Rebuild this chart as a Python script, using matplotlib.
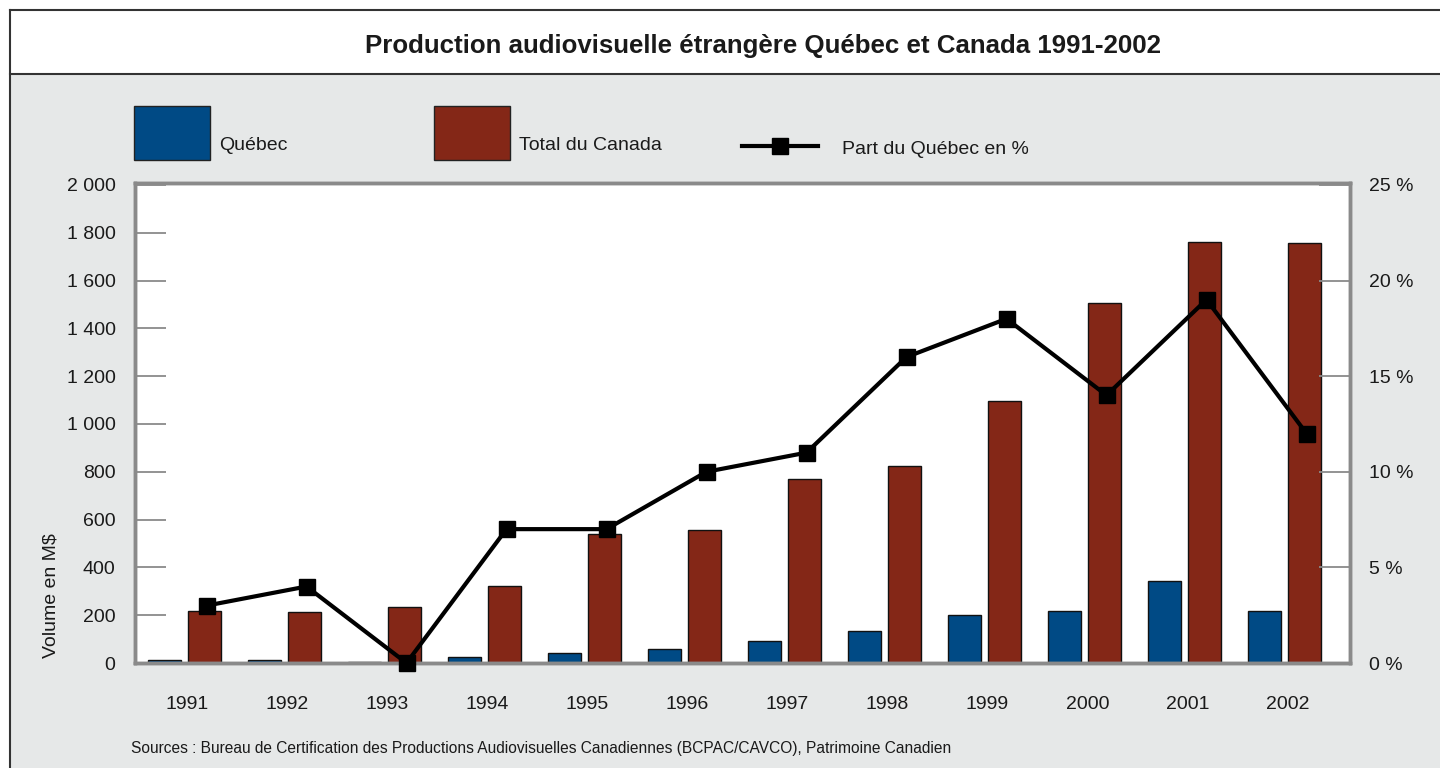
import matplotlib
matplotlib.use('Agg')
import matplotlib.pyplot as plt
from matplotlib.patches import Rectangle
from matplotlib.lines import Line2D
import numpy as np

# ---- data ----
years = ['1991', '1992', '1993', '1994', '1995', '1996', '1997', '1998', '1999', '2000', '2001', '2002']
quebec = [11, 14, 3, 26, 40, 59, 92, 134, 201, 217, 342, 218]
canada = [219, 213, 235, 321, 540, 556, 770, 824, 1096, 1506, 1761, 1757]
part_quebec = [3, 4, 0, 7, 7, 10, 11, 16, 18, 14, 19, 12]
left_ticks = [0, 200, 400, 600, 800, 1000, 1200, 1400, 1600, 1800, 2000]
left_labels = ['0', '200', '400', '600', '800', '1 000', '1 200', '1 400', '1 600', '1 800', '2 000']
right_ticks = [0, 5, 10, 15, 20, 25]
right_labels = ['0 %', '5 %', '10 %', '15 %', '20 %', '25 %']

title = 'Production audiovisuelle étrangère Québec et Canada 1991-2002'
source = 'Sources : Bureau de Certification des Productions Audiovisuelles Canadiennes (BCPAC/CAVCO), Patrimoine Canadien'

BLUE = '#004a85'
RED = '#842717'
GREY_BG = '#e6e8e8'
FRAME = '#8a8a8a'
TXT = '#1a1a1a'
FS = 14

plt.rcParams['font.family'] = ['Liberation Sans', 'DejaVu Sans']

W, H = 1440, 768
fig = plt.figure(figsize=(W / 100, H / 100), dpi=100)
fig.patch.set_facecolor('white')

def fx(x):
    return x / W

def fy(y):
    return 1 - y / H

# grey panel below title band
fig.add_artist(Rectangle((fx(10), 0), 1, fy(74), transform=fig.transFigure,
                         facecolor=GREY_BG, edgecolor='none', zorder=0))
# borders
for xs, ys in [([fx(10), 1], [fy(10), fy(10)]),
               ([fx(10), fx(10)], [0, fy(10)]),
               ([fx(10), 1], [fy(74), fy(74)])]:
    fig.add_artist(Line2D(xs, ys, transform=fig.transFigure, color='#333333', lw=1.5, zorder=1))

fig.text(fx(763), fy(46), title, ha='center', va='center', fontsize=18.6,
         fontweight='bold', color=TXT)

# ---- axes ----
ax = fig.add_axes([fx(135), fy(663), (1350 - 135) / W, (663 - 183) / H])
ax.set_facecolor('white')
x = np.arange(len(years))
bw = 0.33
ax.bar(x - 0.2, quebec, width=bw, color=BLUE, edgecolor='#111111', linewidth=1, zorder=2)
ax.bar(x + 0.2, canada, width=bw, color=RED, edgecolor='#111111', linewidth=1, zorder=2)
ax.set_xlim(-0.495, 11.655)
ax.set_ylim(0, 2008)
ax.set_yticks(left_ticks)
ax.set_yticklabels(left_labels)
ax.tick_params(axis='y', direction='in', length=22, width=1.3, color=FRAME,
               labelsize=FS, pad=14, labelcolor=TXT)
ax.set_xticks(x + 0.03)
ax.set_xticklabels(years)
ax.tick_params(axis='x', length=0, labelsize=FS, pad=24, labelcolor=TXT)
ax.set_ylabel('Volume en M$', fontsize=FS, color=TXT)
ax.yaxis.set_label_coords(-0.0625, 0.14)

ax2 = ax.twinx()
ax2.plot(x + 0.22, part_quebec, color='black', lw=3, marker='s', markersize=11.5,
         clip_on=False, zorder=5)
ax2.set_ylim(0, 25 * 2008 / 2000)
ax2.set_yticks(right_ticks)
ax2.set_yticklabels(right_labels)
ax2.tick_params(axis='y', direction='in', length=22, width=1.3, color=FRAME,
                labelsize=FS, pad=14, labelcolor=TXT)

for a in (ax, ax2):
    for s in a.spines.values():
        s.set_color(FRAME)
        s.set_linewidth(2.5)

# ---- legend (manual) ----
fig.add_artist(Rectangle((fx(134), fy(160)), 76 / W, 54 / H, transform=fig.transFigure,
                         facecolor=BLUE, edgecolor='#222222', lw=1))
fig.text(fx(219), fy(146), 'Québec', ha='left', va='center', fontsize=FS, color=TXT)
fig.add_artist(Rectangle((fx(434), fy(160)), 76 / W, 54 / H, transform=fig.transFigure,
                         facecolor=RED, edgecolor='#222222', lw=1))
fig.text(fx(519), fy(146), 'Total du Canada', ha='left', va='center', fontsize=FS, color=TXT)
fig.add_artist(Line2D([fx(742), fx(818)], [fy(146), fy(146)], transform=fig.transFigure,
                      color='black', lw=3))
fig.add_artist(Line2D([fx(780)], [fy(146)], transform=fig.transFigure, color='black',
                      marker='s', markersize=11.5, lw=0))
fig.text(fx(842), fy(149), 'Part du Québec en %', ha='left', va='center', fontsize=FS, color=TXT)

fig.text(fx(131), fy(748), source, ha='left', va='center', fontsize=11.2, color=TXT)

fig.savefig('out.png', dpi=100, facecolor=fig.get_facecolor())
